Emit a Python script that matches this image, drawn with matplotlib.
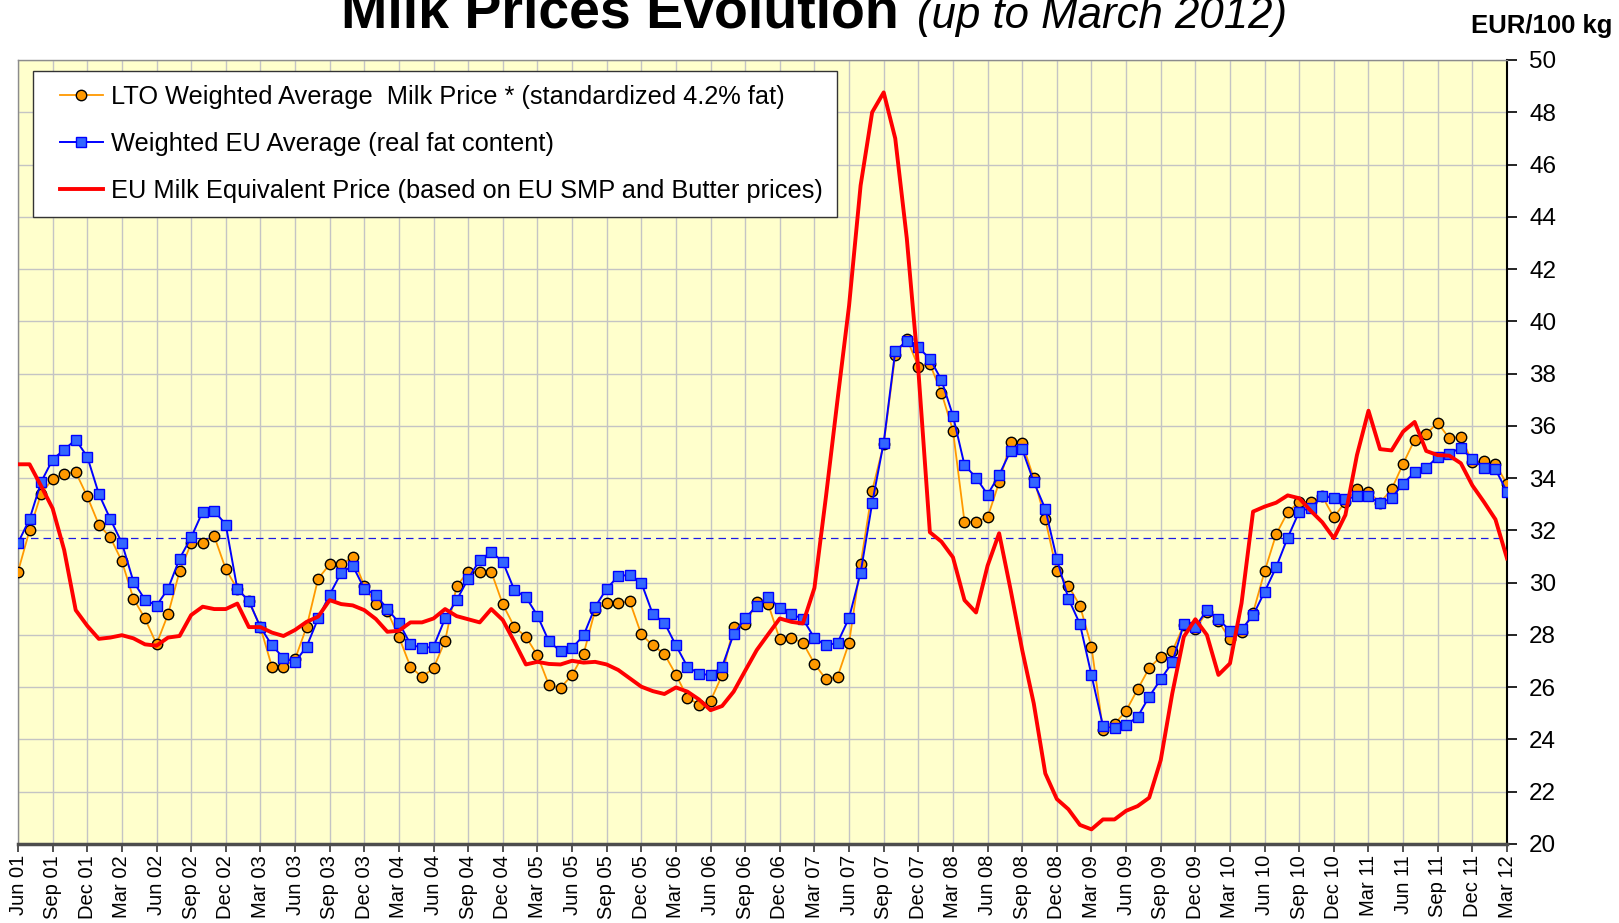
import matplotlib
matplotlib.use('Agg')
import matplotlib.pyplot as plt
from matplotlib.lines import Line2D
from matplotlib.legend_handler import HandlerLine2D
import numpy as np

plt.rcParams['font.family'] = ['Liberation Sans', 'DejaVu Sans']

# monthly values, Jun 01 .. Mar 12 (EUR/100 kg)
lto_price = [30.42, 32.0, 33.4, 33.97, 34.17, 34.23, 33.3, 32.22, 31.73, 30.82,
             29.39, 28.63, 27.65, 28.79, 30.43, 31.5, 31.5, 31.78, 30.52, 29.76,
             29.31, 28.3, 26.78, 26.78, 27.07, 28.3, 30.15, 30.7, 30.7, 30.98,
             29.88, 29.2, 28.9, 27.93, 26.78, 26.39, 26.73, 27.77, 29.87, 30.42,
             30.42, 30.42, 29.17, 28.31, 27.93, 27.22, 26.08, 25.98, 26.46, 27.27,
             28.95, 29.23, 29.23, 29.28, 28.02, 27.6, 27.27, 26.48, 25.6, 25.33,
             25.48, 26.46, 28.31, 28.4, 29.26, 29.17, 27.83, 27.88, 27.7, 26.9,
             26.3, 26.4, 27.7, 30.7, 33.52, 35.3, 38.71, 39.34, 38.27, 38.37,
             37.27, 35.82, 32.33, 32.33, 32.5, 33.84, 35.37, 35.33, 34.0, 32.43,
             30.43, 29.88, 29.12, 27.55, 24.36, 24.58, 25.1, 25.92, 26.73, 27.17,
             27.37, 28.38, 28.21, 28.89, 28.53, 27.83, 28.12, 28.85, 30.43, 31.85,
             32.7, 33.09, 33.09, 33.3, 32.5, 33.1, 33.57, 33.48, 33.06, 33.57,
             34.55, 35.47, 35.69, 36.12, 35.52, 35.59, 34.6, 34.65, 34.54, 33.77]

eu_price = [31.52, 32.43, 33.85, 34.71, 35.09, 35.47, 34.82, 33.4, 32.43, 31.52,
            30.04, 29.35, 29.12, 29.77, 30.92, 31.73, 32.72, 32.75, 32.22, 29.76,
            29.3, 28.3, 27.6, 27.12, 26.96, 27.55, 28.63, 29.54, 30.38, 30.65,
            29.77, 29.54, 28.99, 28.47, 27.65, 27.49, 27.55, 28.63, 29.33, 30.15,
            30.86, 31.18, 30.8, 29.72, 29.45, 28.74, 27.75, 27.38, 27.5, 27.98,
            29.07, 29.77, 30.25, 30.3, 30.0, 28.79, 28.47, 27.6, 26.78, 26.52,
            26.46, 26.78, 28.03, 28.63, 29.12, 29.45, 29.02, 28.8, 28.61, 27.88,
            27.6, 27.7, 28.65, 30.38, 33.04, 35.36, 38.86, 39.25, 39.0, 38.57,
            37.76, 36.39, 34.5, 34.02, 33.37, 34.12, 35.05, 35.1, 33.86, 32.82,
            30.91, 29.39, 28.42, 26.47, 24.51, 24.42, 24.55, 24.87, 25.64, 26.3,
            26.95, 28.4, 28.31, 28.95, 28.61, 28.16, 28.21, 28.75, 29.65, 30.59,
            31.72, 32.72, 32.87, 33.3, 33.25, 33.2, 33.3, 33.3, 33.03, 33.24,
            33.79, 34.22, 34.39, 34.82, 34.94, 35.16, 34.72, 34.39, 34.34, 33.47]

equiv_price = [34.53, 34.53, 33.7, 32.84, 31.25, 28.95, 28.35, 27.85, 27.9, 27.99,
               27.87, 27.64, 27.59, 27.9, 27.96, 28.76, 29.08, 28.99, 28.99, 29.2,
               28.3, 28.3, 28.09, 27.96, 28.19, 28.5, 28.7, 29.33, 29.18, 29.13,
               28.95, 28.61, 28.12, 28.16, 28.48, 28.48, 28.63, 28.99, 28.72, 28.6,
               28.48, 28.99, 28.57, 27.74, 26.87, 26.97, 26.89, 26.87, 27.01, 26.94,
               26.97, 26.87, 26.66, 26.34, 26.02, 25.85, 25.74, 25.99, 25.83, 25.53,
               25.12, 25.28, 25.83, 26.63, 27.42, 28.03, 28.63, 28.5, 28.44, 29.8,
               33.3, 37.0, 40.6, 45.2, 48.0, 48.76, 47.0, 43.18, 38.14, 31.93,
               31.57, 30.97, 29.33, 28.86, 30.65, 31.89, 29.72, 27.42, 25.38, 22.7,
               21.72, 21.33, 20.73, 20.56, 20.94, 20.94, 21.27, 21.45, 21.77, 23.21,
               25.76, 27.93, 28.6, 28.0, 26.47, 26.91, 29.21, 32.72, 32.91, 33.06,
               33.34, 33.23, 32.75, 32.31, 31.7, 32.59, 34.88, 36.58, 35.11, 35.06,
               35.78, 36.15, 35.04, 34.88, 34.86, 34.57, 33.72, 33.09, 32.42, 30.93]

avg_level = 31.7

tick_labels = ['Jun 01', 'Sep 01', 'Dec 01', 'Mar 02', 'Jun 02', 'Sep 02', 'Dec 02',
               'Mar 03', 'Jun 03', 'Sep 03', 'Dec 03', 'Mar 04', 'Jun 04', 'Sep 04',
               'Dec 04', 'Mar 05', 'Jun 05', 'Sep 05', 'Dec 05', 'Mar 06', 'Jun 06',
               'Sep 06', 'Dec 06', 'Mar 07', 'Jun 07', 'Sep 07', 'Dec 07', 'Mar 08',
               'Jun 08', 'Sep 08', 'Dec 08', 'Mar 09', 'Jun 09', 'Sep 09', 'Dec 09',
               'Mar 10', 'Jun 10', 'Sep 10', 'Dec 10', 'Mar 11', 'Jun 11', 'Sep 11',
               'Dec 11', 'Mar 12']

x = np.arange(len(lto_price))

fig = plt.figure(figsize=(16.19, 9.23), dpi=100)
ax = fig.add_axes([18/1619, 1-844/923, (1507-18)/1619, (844-60)/923])
ax.set_facecolor('#FFFFCC')

ax.plot(x, lto_price, color='#FF9900', lw=1.3, marker='o', ms=7.5,
        mfc='#FF9900', mec='black', mew=1.0,
        label='LTO Weighted Average  Milk Price * (standardized 4.2% fat)', zorder=3)
ax.plot(x, eu_price, color='#0000FF', lw=1.4, marker='s', ms=7,
        mfc='#3366FF', mec='#0000FF', mew=1.0,
        label='Weighted EU Average (real fat content)', zorder=4)
ax.plot(x, equiv_price, color='#FF0000', lw=2.8,
        label='EU Milk Equivalent Price (based on EU SMP and Butter prices)', zorder=5)
ax.axhline(avg_level, color='#1A1AE6', lw=0.9, ls=(0, (6, 4)), zorder=2)

ax.set_xlim(0, len(x) - 1)
ax.set_ylim(20, 50)
ax.set_xticks(x[::3])
ax.set_xticklabels(tick_labels, rotation=90, fontsize=14.5)
ax.set_yticks(range(20, 51, 2))
ax.yaxis.tick_right()
ax.tick_params(axis='y', labelsize=17.5, length=7, width=1.2, pad=9)
ax.tick_params(axis='x', length=6, width=1.2, pad=2, color='#333333')
ax.grid(True, color='#C4C4C4', lw=1.0)
ax.set_axisbelow(True)

for s in ['left', 'top']:
    ax.spines[s].set_color('#8C8C8C')
    ax.spines[s].set_linewidth(1.0)
ax.spines['bottom'].set_color('#4D4D4D')
ax.spines['bottom'].set_linewidth(2.5)
ax.spines['right'].set_color('black')
ax.spines['right'].set_linewidth(1.5)

leg = ax.legend(loc='upper left', bbox_to_anchor=(0.0101, 0.986), borderaxespad=0,
                fontsize=18.3, frameon=True, fancybox=False, framealpha=1,
                edgecolor='#333333', facecolor='white', handlelength=2.2,
                labelspacing=0.9, borderpad=0.55, handletextpad=0.32,
                handler_map={Line2D: HandlerLine2D(xpad=0.5)})
leg.get_frame().set_linewidth(1.0)

fig.text(341/1619, 1-28/923, 'Milk Prices Evolution', fontsize=40,
         fontweight='bold', ha='left', va='baseline')
fig.text(917/1619, 1-28/923, '(up to March 2012)', fontsize=31.5,
         fontstyle='italic', ha='left', va='baseline')
fig.text(1612/1619, 1-26/923, 'EUR/100 kg', fontsize=18.5, fontweight='bold',
         ha='right', va='center')

fig.savefig('out.png', dpi=100)
